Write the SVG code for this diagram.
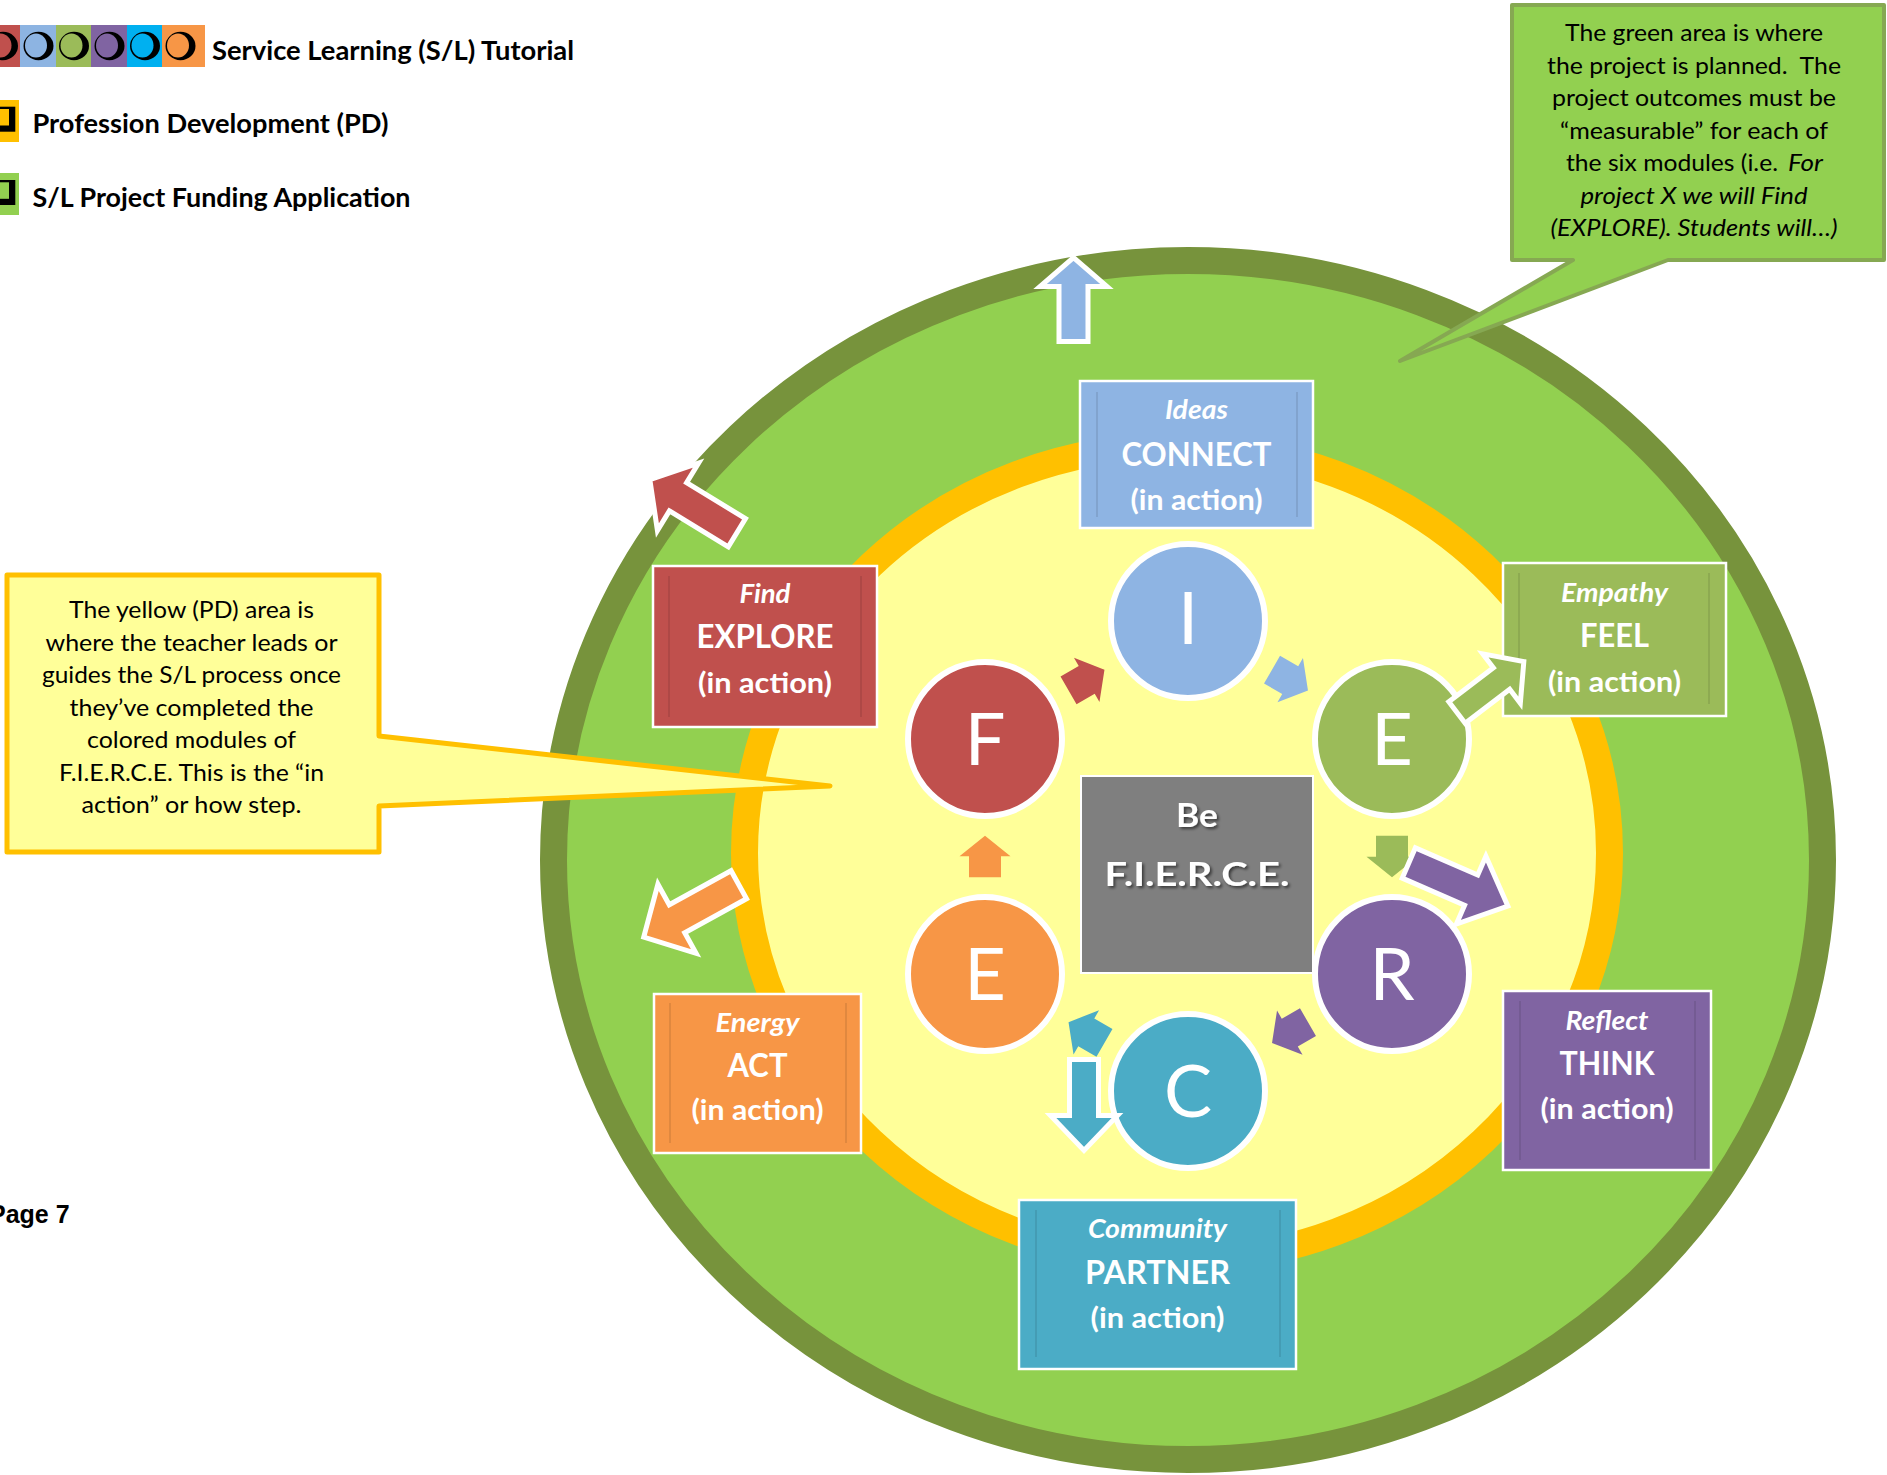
<svg xmlns="http://www.w3.org/2000/svg" xmlns:xlink="http://www.w3.org/1999/xlink" width="1887" height="1475" viewBox="0 0 1887 1475">
  <style>
    .legend { font-family: Lato, "Open Sans", sans-serif; font-weight: 700; font-size: 26px; fill: #000; }
    .note { font-family: Lato, "Open Sans", sans-serif; font-size: 24px; fill: #000; text-anchor: middle; }
    .note-i { font-style: italic; }
    .lbl-i { font-family: Lato, "Open Sans", sans-serif; font-style: italic; font-weight: 700; font-size: 26px; fill: #fff; text-anchor: middle; }
    .lbl-m { font-family: Lato, "Open Sans", sans-serif; font-weight: 700; font-size: 33px; fill: #fff; text-anchor: middle; }
    .lbl-p { font-family: Lato, "Open Sans", sans-serif; font-weight: 700; font-size: 29px; fill: #fff; text-anchor: middle; }
    .letter { font-family: Lato, "Open Sans", sans-serif; font-weight: 400; font-size: 72px; fill: #fff; text-anchor: middle; }
    .core { font-family: Lato, "Open Sans", sans-serif; font-weight: 700; font-size: 33px; fill: #fff; text-anchor: middle; }
    .box { stroke: #fff; stroke-width: 2.5; }
    .rule { stroke: #000; stroke-opacity: 0.12; stroke-width: 1.5; }
    .node { stroke: #fff; stroke-width: 6; }
    .out { stroke: #fff; stroke-width: 5; stroke-linejoin: miter; }
  </style>
  <defs>
    <path id="step" d="M-20.75,-16 H0.25 V-25.5 L20.75,0 L0.25,25.5 V16 H-20.75 Z"/>
    <filter id="shadow" x="-20%" y="-20%" width="140%" height="160%">
      <feDropShadow dx="2" dy="2" stdDeviation="1.5" flood-color="#000" flood-opacity="0.55"/>
    </filter>
  </defs>

  <rect width="1887" height="1475" fill="#fff"/>

  <!-- legend -->
  <g id="legend">
    <rect x="-15" y="25" width="35" height="42" fill="#C0504D"/>
    <rect x="20" y="25" width="36" height="42" fill="#8DB4E2"/>
    <rect x="56" y="25" width="35" height="42" fill="#9BBB59"/>
    <rect x="91" y="25" width="36" height="42" fill="#8064A2"/>
    <rect x="127" y="25" width="35" height="42" fill="#00B0F0"/>
    <rect x="162" y="25" width="43" height="42" fill="#F79646"/>
    <g fill="#000">
      <ellipse cx="3" cy="46" rx="15" ry="14.2"/>
      <ellipse cx="38.5" cy="46" rx="15" ry="14.2"/>
      <ellipse cx="74" cy="46" rx="15" ry="14.2"/>
      <ellipse cx="109.5" cy="46" rx="15" ry="14.2"/>
      <ellipse cx="145" cy="46" rx="15" ry="14.2"/>
      <ellipse cx="180.5" cy="46" rx="15" ry="14.2"/>
    </g>
    <ellipse cx="0.5" cy="45.5" rx="11" ry="12" fill="#C0504D"/>
    <ellipse cx="36" cy="45.5" rx="11" ry="12" fill="#8DB4E2"/>
    <ellipse cx="71.5" cy="45.5" rx="11" ry="12" fill="#9BBB59"/>
    <ellipse cx="107" cy="45.5" rx="11" ry="12" fill="#8064A2"/>
    <ellipse cx="142.5" cy="45.5" rx="11" ry="12" fill="#00B0F0"/>
    <ellipse cx="178" cy="45.5" rx="11" ry="12" fill="#F79646"/>
    <text class="legend" x="212" y="59.5" textLength="362" lengthAdjust="spacingAndGlyphs">Service Learning (S/L) Tutorial</text>

    <rect x="0" y="100" width="19" height="42" fill="#FFC000"/>
    <rect x="-10" y="106.7" width="25.3" height="25" fill="#000"/>
    <rect x="-10" y="109" width="19" height="16.5" fill="#FFC000"/>
    <text class="legend" x="32.5" y="132.5" textLength="356" lengthAdjust="spacingAndGlyphs">Profession Development (PD)</text>

    <rect x="0" y="173" width="19" height="42" fill="#92D050"/>
    <rect x="-10" y="180" width="25.3" height="25" fill="#000"/>
    <rect x="-10" y="182.3" width="19" height="16.5" fill="#92D050"/>
    <text class="legend" x="32.5" y="206.5" textLength="378" lengthAdjust="spacingAndGlyphs">S/L Project Funding Application</text>
  </g>

  <text x="-11" y="1223" font-family="Liberation Sans, Arial, sans-serif" font-weight="700" font-size="25" fill="#000">Page 7</text>

  <!-- planning area (green) and PD area (yellow) -->
  <g id="areas">
    <ellipse cx="1188" cy="860" rx="634.5" ry="599.5" fill="#92D050" stroke="#77933C" stroke-width="27"/>
    <ellipse cx="1177" cy="853" rx="432.5" ry="407.5" fill="#FFFF99" stroke="#FFC000" stroke-width="27"/>
  </g>

  <!-- callouts -->
  <g id="note-green">
    <path d="M1512,5 H1884 V260 H1668 L1400,361 L1573,260 H1512 Z" fill="#92D050" stroke="#86A852" stroke-width="4" stroke-linejoin="round"/>
    <text class="note" x="1694" y="41" textLength="258" lengthAdjust="spacingAndGlyphs">The green area is where</text>
    <text class="note" x="1694" y="73.5" textLength="294" lengthAdjust="spacingAndGlyphs" xml:space="preserve">the project is planned.&#160; The</text>
    <text class="note" x="1694" y="106" textLength="284" lengthAdjust="spacingAndGlyphs">project outcomes must be</text>
    <text class="note" x="1694" y="138.5" textLength="268" lengthAdjust="spacingAndGlyphs">“measurable” for each of</text>
    <text class="note" x="1566" y="171" text-anchor="start" style="text-anchor:start" textLength="212" lengthAdjust="spacingAndGlyphs">the six modules (i.e.</text>
    <text class="note note-i" x="1788" y="171" style="text-anchor:start" textLength="35" lengthAdjust="spacingAndGlyphs">For</text>
    <text class="note note-i" x="1694" y="203.5" textLength="227" lengthAdjust="spacingAndGlyphs">project X we will Find</text>
    <text class="note note-i" x="1694" y="236" textLength="287" lengthAdjust="spacingAndGlyphs">(EXPLORE). Students will…)</text>
  </g>

  <g id="note-yellow">
    <path d="M7,575 H379 V736 L830,786 L379,806 V852 H7 Z" fill="#FFFF99" stroke="#FFC000" stroke-width="5" stroke-linejoin="round"/>
    <text class="note" x="191.5" y="618" textLength="245" lengthAdjust="spacingAndGlyphs">The yellow (PD) area is</text>
    <text class="note" x="191.5" y="650.5" textLength="292" lengthAdjust="spacingAndGlyphs">where the teacher leads or</text>
    <text class="note" x="191.5" y="683" textLength="299" lengthAdjust="spacingAndGlyphs">guides the S/L process once</text>
    <text class="note" x="191.5" y="715.5" textLength="244" lengthAdjust="spacingAndGlyphs">they’ve completed the</text>
    <text class="note" x="191.5" y="748" textLength="209" lengthAdjust="spacingAndGlyphs">colored modules of</text>
    <text class="note" x="191.5" y="780.5" textLength="265" lengthAdjust="spacingAndGlyphs">F.I.E.R.C.E. This is the “in</text>
    <text class="note" x="191.5" y="813" textLength="220" lengthAdjust="spacingAndGlyphs">action” or how step.</text>
  </g>

  <!-- action boxes -->
  <g id="box-connect">
    <rect class="box" x="1080" y="381" width="233" height="147" fill="#8EB4E3"/>
    <line class="rule" x1="1097" y1="392" x2="1097" y2="517"/>
    <line class="rule" x1="1297" y1="392" x2="1297" y2="517"/>
    <text class="lbl-i" x="1196.5" y="419" textLength="63" lengthAdjust="spacingAndGlyphs">Ideas</text>
    <text class="lbl-m" x="1196.5" y="466" textLength="150" lengthAdjust="spacingAndGlyphs">CONNECT</text>
    <text class="lbl-p" x="1196.5" y="510" textLength="132" lengthAdjust="spacingAndGlyphs">(in action)</text>
  </g>
  <g id="box-explore">
    <rect class="box" x="653" y="566" width="224" height="161" fill="#C0504D"/>
    <line class="rule" x1="669" y1="576" x2="669" y2="717"/>
    <line class="rule" x1="861" y1="576" x2="861" y2="717"/>
    <text class="lbl-i" x="765" y="603" textLength="51" lengthAdjust="spacingAndGlyphs">Find</text>
    <text class="lbl-m" x="765" y="648" textLength="137" lengthAdjust="spacingAndGlyphs">EXPLORE</text>
    <text class="lbl-p" x="765" y="693" textLength="134" lengthAdjust="spacingAndGlyphs">(in action)</text>
  </g>
  <g id="box-feel">
    <rect class="box" x="1503" y="563" width="223" height="153" fill="#9BBB59"/>
    <line class="rule" x1="1519" y1="573" x2="1519" y2="704"/>
    <line class="rule" x1="1709" y1="573" x2="1709" y2="704"/>
    <text class="lbl-i" x="1614.5" y="602" textLength="107" lengthAdjust="spacingAndGlyphs">Empathy</text>
    <text class="lbl-m" x="1614.5" y="647" textLength="69" lengthAdjust="spacingAndGlyphs">FEEL</text>
    <text class="lbl-p" x="1614.5" y="692" textLength="133" lengthAdjust="spacingAndGlyphs">(in action)</text>
  </g>
  <g id="box-think">
    <rect class="box" x="1503" y="991" width="208" height="179" fill="#8064A2"/>
    <line class="rule" x1="1520" y1="1001" x2="1520" y2="1160"/>
    <line class="rule" x1="1695" y1="1001" x2="1695" y2="1160"/>
    <text class="lbl-i" x="1607" y="1030" textLength="83" lengthAdjust="spacingAndGlyphs">Reflect</text>
    <text class="lbl-m" x="1607" y="1075" textLength="95" lengthAdjust="spacingAndGlyphs">THINK</text>
    <text class="lbl-p" x="1607" y="1119" textLength="133" lengthAdjust="spacingAndGlyphs">(in action)</text>
  </g>
  <g id="box-act">
    <rect class="box" x="654" y="994" width="207" height="159" fill="#F79646"/>
    <line class="rule" x1="670" y1="1003" x2="670" y2="1143"/>
    <line class="rule" x1="846" y1="1003" x2="846" y2="1143"/>
    <text class="lbl-i" x="757.5" y="1032" textLength="84" lengthAdjust="spacingAndGlyphs">Energy</text>
    <text class="lbl-m" x="757.5" y="1077" textLength="60" lengthAdjust="spacingAndGlyphs">ACT</text>
    <text class="lbl-p" x="757.5" y="1120" textLength="132" lengthAdjust="spacingAndGlyphs">(in action)</text>
  </g>
  <g id="box-partner">
    <rect class="box" x="1019" y="1200" width="277" height="169" fill="#4BACC6"/>
    <line class="rule" x1="1036" y1="1210" x2="1036" y2="1357"/>
    <line class="rule" x1="1280" y1="1210" x2="1280" y2="1357"/>
    <text class="lbl-i" x="1157.5" y="1238" textLength="139" lengthAdjust="spacingAndGlyphs">Community</text>
    <text class="lbl-m" x="1157.5" y="1284" textLength="145" lengthAdjust="spacingAndGlyphs">PARTNER</text>
    <text class="lbl-p" x="1157.5" y="1328" textLength="134" lengthAdjust="spacingAndGlyphs">(in action)</text>
  </g>

  <!-- centre -->
  <g id="core">
    <rect x="1081" y="776" width="232" height="197" fill="#7F7F7F" stroke="#fff" stroke-width="2"/>
    <g filter="url(#shadow)">
      <text class="core" x="1197" y="827" textLength="42" lengthAdjust="spacingAndGlyphs">Be</text>
      <text class="core" x="1197" y="886" textLength="185" lengthAdjust="spacingAndGlyphs">F.I.E.R.C.E.</text>
    </g>
  </g>

  <!-- F.I.E.R.C.E. modules -->
  <g id="node-f">
    <circle class="node" cx="985" cy="739" r="77" fill="#C0504D"/>
    <text class="letter" x="985" y="765">F</text>
  </g>
  <g id="node-i">
    <circle class="node" cx="1188" cy="621" r="77" fill="#8EB4E3"/>
    <text class="letter" x="1188" y="644">I</text>
  </g>
  <g id="node-e1">
    <circle class="node" cx="1392" cy="739" r="77" fill="#9BBB59"/>
    <text class="letter" x="1392" y="765">E</text>
  </g>
  <g id="node-r">
    <circle class="node" cx="1392" cy="974" r="77" fill="#8064A2"/>
    <text class="letter" x="1392" y="1000">R</text>
  </g>
  <g id="node-c">
    <circle class="node" cx="1188" cy="1091" r="77" fill="#4BACC6"/>
    <text class="letter" x="1188" y="1117">C</text>
  </g>
  <g id="node-e2">
    <circle class="node" cx="985" cy="974" r="77" fill="#F79646"/>
    <text class="letter" x="985" y="1000">E</text>
  </g>

  <!-- connectors -->
  <g id="connectors">
    <!-- cycle steps between modules -->
    <use xlink:href="#step" href="#step" transform="translate(1086.5,680) rotate(-30)" fill="#C0504D"/>
    <use xlink:href="#step" href="#step" transform="translate(1290,680) rotate(30)" fill="#8EB4E3"/>
    <use xlink:href="#step" href="#step" transform="translate(1392,856.5) rotate(90)" fill="#9BBB59"/>
    <use xlink:href="#step" href="#step" transform="translate(1290,1032.5) rotate(150)" fill="#8064A2"/>
    <use xlink:href="#step" href="#step" transform="translate(1086.5,1032.5) rotate(210)" fill="#4BACC6"/>
    <use xlink:href="#step" href="#step" transform="translate(985,856.5) rotate(270)" fill="#F79646"/>

    <!-- outward arrows into the planning area -->
    <path class="out" fill="#8EB4E3" transform="translate(1073.5,341.5) rotate(-90)" d="M0,-14.5 H55 V-33.5 L84,0 L55,33.5 V14.5 H0 Z"/>
    <path class="out" fill="#C0504D" transform="translate(736.9,532.7) rotate(211.4)" d="M0,-16.5 H69 V-39.5 L102,0 L69,39.5 V16.5 H0 Z"/>
    <path class="out" fill="#9BBB59" transform="translate(1457,712.5) rotate(-37.3)" d="M0,-13.5 H56 V-31 L84,0 L56,31 V13.5 H0 Z"/>
    <path class="out" fill="#8064A2" transform="translate(1408.8,863) rotate(23.5)" d="M0,-16.5 H68 V-37 L108,0 L68,37 V16.5 H0 Z"/>
    <path class="out" fill="#4BACC6" transform="translate(1084,1059.5) rotate(90)" d="M0,-14.5 H56 V-33.5 L91,0 L56,33.5 V14.5 H0 Z"/>
    <path class="out" fill="#F79646" transform="translate(738.8,884.7) rotate(151.1)" d="M0,-16 H70.6 V-39.5 L108.6,0 L70.6,39.5 V16 H0 Z"/>
  </g>
</svg>
